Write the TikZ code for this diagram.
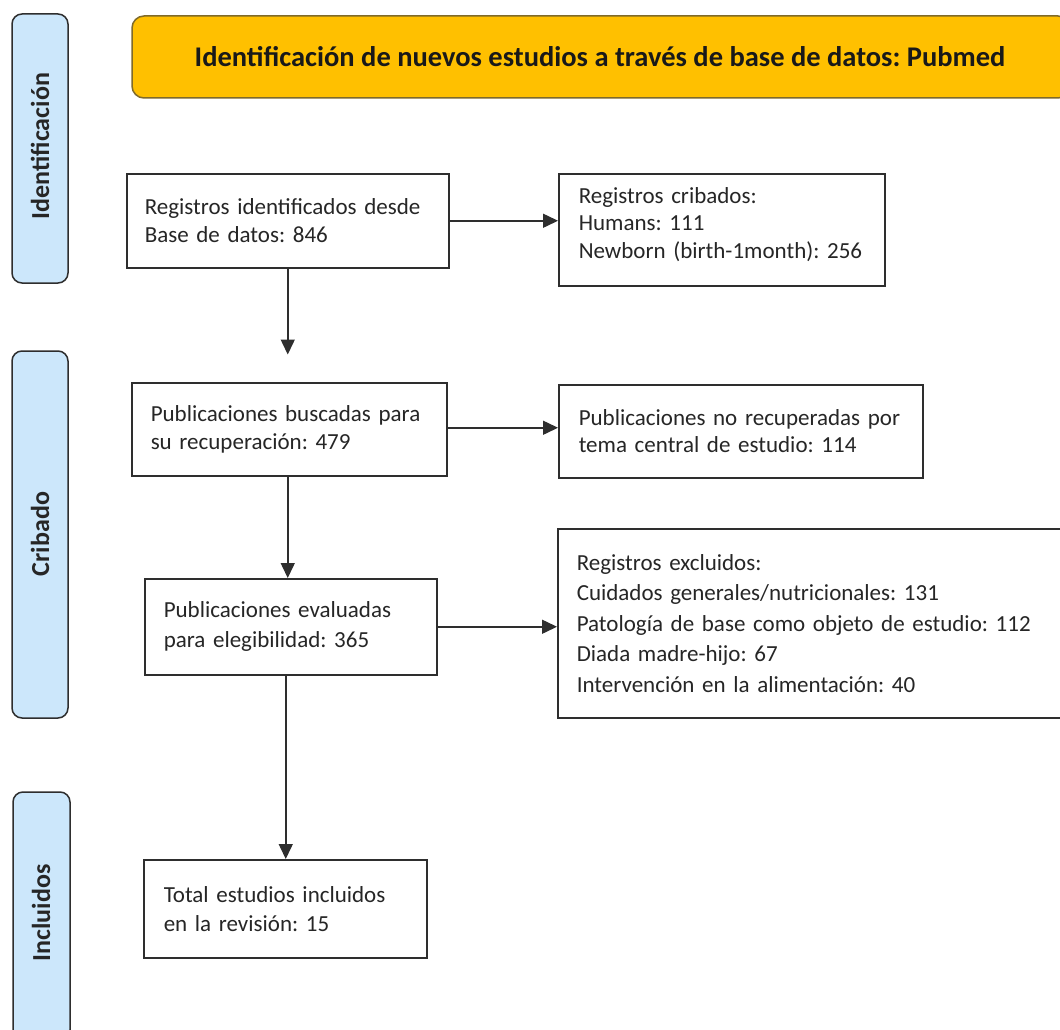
\documentclass[tikz,border=0pt]{standalone}
\usepackage{fontspec}
\setmainfont{Carlito}
\frenchspacing
\usetikzlibrary{arrows.meta,calc}
\definecolor{banner}{HTML}{FFC000}
\definecolor{bannerline}{HTML}{7F6A2A}
\definecolor{sideblue}{HTML}{CCE7FB}
\definecolor{boxline}{HTML}{2E2E2E}
\tikzset{
  box/.style={draw=boxline, line width=1.5pt, fill=white, anchor=north west,
    align=left, inner xsep=19pt, inner ysep=0pt,
    font=\fontsize{23}{27.5}\selectfont, text=black!85},
  side/.style={draw=boxline, line width=1.5pt, fill=sideblue, rounded corners=10pt},
  sidetext/.style={rotate=90, font=\bfseries\fontsize{26}{30}\selectfont, text=black!85},
  flow/.style={draw=boxline, line width=1.5pt, -{Triangle[length=15pt,width=14pt]}}
}
\begin{document}
\hyphenpenalty=10000
\exhyphenpenalty=10000
\begin{tikzpicture}[x=1pt,y=-1pt]
\useasboundingbox (0,0) rectangle (1060,1030);
\clip (0,0) rectangle (1060,1030);
\fill[white] (0,0) rectangle (1060,1030);

% banner
\draw[fill=banner, draw=bannerline, line width=1.5pt, rounded corners=12pt] (132,16) rectangle (1070,98);
\node[font=\bfseries\fontsize{28.5}{32}\selectfont, text=black!90] (title) at (600,57) {Identificación de nuevos estudios a través de base de datos: Pubmed};

% side labels
\draw[side] (12,14) rectangle (68,283);
\node[sidetext] (lid) at (40,146) {Identificación};
\draw[side] (12,351) rectangle (68,718);
\node[sidetext] (lcr) at (40,534) {Cribado};
\draw[side] (13,792) rectangle (70,1040);
\node[sidetext] (lin) at (41,913) {Incluidos};

% boxes
\node[box, minimum width=322pt, minimum height=94pt, text width=286pt, inner xsep=18pt] (A) at (126,173)
  {Registros identificados desde\\Base de datos: 846};
\node[box, minimum width=326pt, minimum height=112pt, text width=286pt, inner xsep=20pt] (B) at (558,173)
  {Registros cribados:\\Humans: 111\\Newborn (birth-1month): 256\\[-13.5pt]\mbox{}};
\node[box, minimum width=315pt, minimum height=93pt, text width=277pt] (C) at (131,382)
  {Publicaciones buscadas para\\su recuperación: 479};
\node[box, minimum width=364pt, minimum height=93pt, text width=324pt, inner xsep=20pt] (D) at (558,384)
  {Publicaciones no recuperadas por\\tema central de estudio: 114};
\node[box, minimum width=292pt, minimum height=96pt, text width=254pt, font=\fontsize{23}{30}\selectfont] (E) at (144,578)
  {Publicaciones evaluadas\\para elegibilidad: 365};
\node[box, minimum width=530pt, minimum height=189pt, text width=492pt, font=\fontsize{23}{30.5}\selectfont] (F) at (557,528)
  {Registros excluidos:\\Cuidados generales/nutricionales: 131\\Patología de base como objeto de estudio: 112\\Diada madre-hijo: 67\\Intervención en la alimentación: 40};
\node[box, minimum width=283pt, minimum height=98pt, text width=243pt, inner xsep=20pt, font=\fontsize{23}{29}\selectfont] (G) at (143,859)
  {Total estudios incluidos\\en la revisión: 15};

% connectors
\coordinate (a1) at ($(A.south)+(0,86)$);
\draw[flow] (A.south) -- (a1);
\draw[flow] (A.east) -- (A.east -| B.west);
\draw[flow] ($(C.south)+(-1.5,0)$) -- ($(C.south |- E.north)+(-1.5,0)$);
\draw[flow] ($(C.east)+(0,-1.5)$) -- ($(C.east -| D.west)+(0,-1.5)$);
\draw[flow] ($(E.south -| G.north)+(0.5,0)$) -- ($(G.north)+(0.5,0)$);
\draw[flow] (E.east) -- (E.east -| F.west);
\end{tikzpicture}
\end{document}
